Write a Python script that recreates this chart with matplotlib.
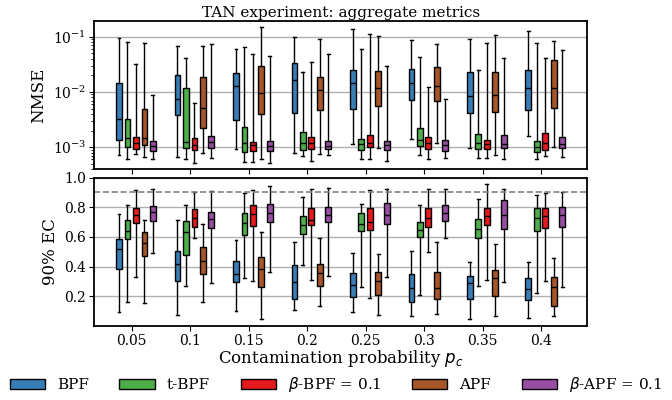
import numpy as np
import matplotlib
matplotlib.use("Agg")
import matplotlib.pyplot as plt

plt.rcParams["font.family"] = "DejaVu Serif"
plt.rcParams["mathtext.fontset"] = "dejavusans"

probs = ["0.05", "0.1", "0.15", "0.2", "0.25", "0.3", "0.35", "0.4"]
methods = ["BPF", "t-BPF", r"$\beta$-BPF = 0.1", "APF", r"$\beta$-APF = 0.1"]
colors = ["#377eb8", "#4daf4a", "#e41a1c", "#a65628", "#984ea3"]

# each entry: (low whisker, q1, median, q3, high whisker), one row per probability
nmse_bpf = [(7.2e-4, 1.35e-3, 3.2e-3, 1.44e-2, 0.093), (6.6e-4, 3.8e-3, 7.5e-3, 2.03e-2, 0.069),
            (9.1e-4, 3.1e-3, 1.29e-2, 2.2e-2, 0.059), (8.0e-4, 4.1e-3, 1.65e-2, 3.3e-2, 0.097),
            (1.15e-3, 5.0e-3, 1.47e-2, 2.5e-2, 0.138), (1.38e-3, 7.3e-3, 1.46e-2, 2.64e-2, 0.086),
            (9.8e-4, 4.1e-3, 8.6e-3, 2.28e-2, 0.091), (1.58e-3, 4.7e-3, 1.17e-2, 2.46e-2, 0.128)]
nmse_tbpf = [(6.2e-4, 1.01e-3, 1.48e-3, 3.2e-3, 0.080), (6.2e-4, 9.8e-4, 1.23e-3, 1.17e-2, 0.041),
             (5.4e-4, 8.1e-4, 1.2e-3, 2.3e-3, 0.064), (6.9e-4, 8.9e-4, 1.2e-3, 1.9e-3, 0.023),
             (6.1e-4, 8.9e-4, 1.12e-3, 1.38e-3, 0.060), (7.2e-4, 1.05e-3, 1.35e-3, 2.2e-3, 0.043),
             (6.3e-4, 9.1e-4, 1.2e-3, 1.7e-3, 0.0246), (6.0e-4, 8.1e-4, 1.03e-3, 1.32e-3, 0.078)]
nmse_bbpf = [(7.4e-4, 9.1e-4, 1.2e-3, 1.5e-3, 0.032), (5.2e-4, 8.9e-4, 1.1e-3, 1.48e-3, 0.0063),
             (5.5e-4, 8.5e-4, 1.1e-3, 1.26e-3, 0.049), (5.6e-4, 9.4e-4, 1.17e-3, 1.5e-3, 0.035),
             (6.1e-4, 1.0e-3, 1.2e-3, 1.63e-3, 0.113), (6.0e-4, 9.1e-4, 1.18e-3, 1.55e-3, 0.0125),
             (6.4e-4, 9.1e-4, 1.12e-3, 1.34e-3, 0.076), (6.9e-4, 8.9e-4, 1.17e-3, 1.8e-3, 0.041)]
nmse_apf = [(6.7e-4, 1.1e-3, 1.45e-3, 5.0e-3, 0.078), (7.9e-4, 2.2e-3, 5.1e-3, 1.87e-2, 0.067),
            (6.0e-4, 4.0e-3, 9.5e-3, 2.95e-2, 0.150), (7.6e-4, 4.7e-3, 1.1e-2, 1.9e-2, 0.092),
            (9.8e-4, 5.5e-3, 1.18e-2, 2.36e-2, 0.102), (1.18e-3, 6.9e-3, 1.3e-2, 2.8e-2, 0.075),
            (7.2e-4, 4.4e-3, 8.7e-3, 2.28e-2, 0.107), (1.0e-3, 5.2e-3, 1.2e-2, 3.8e-2, 0.085)]
nmse_bapf = [(6.2e-4, 8.7e-4, 1.05e-3, 1.32e-3, 0.0089), (6.4e-4, 9.6e-4, 1.23e-3, 1.58e-3, 0.073),
             (5.2e-4, 8.6e-4, 1.05e-3, 1.29e-3, 0.045), (7.1e-4, 9.1e-4, 1.07e-3, 1.29e-3, 0.048),
             (5.6e-4, 8.9e-4, 1.1e-3, 1.32e-3, 0.029), (6.4e-4, 8.5e-4, 1.1e-3, 1.35e-3, 0.0076),
             (6.2e-4, 9.8e-4, 1.15e-3, 1.63e-3, 0.041), (6.6e-4, 9.6e-4, 1.13e-3, 1.5e-3, 0.057)]

ec_bpf = [(0.095, 0.387, 0.519, 0.587, 0.753), (0.075, 0.302, 0.416, 0.506, 0.712),
          (0.102, 0.297, 0.351, 0.439, 0.578), (0.106, 0.183, 0.297, 0.414, 0.564),
          (0.095, 0.198, 0.277, 0.358, 0.490), (0.070, 0.165, 0.257, 0.349, 0.504),
          (0.050, 0.185, 0.288, 0.335, 0.434), (0.053, 0.176, 0.246, 0.326, 0.432)]
ec_tbpf = [(0.162, 0.585, 0.643, 0.712, 0.813), (0.270, 0.479, 0.634, 0.708, 0.816),
           (0.322, 0.614, 0.695, 0.764, 0.897), (0.409, 0.620, 0.679, 0.739, 0.867),
           (0.264, 0.643, 0.690, 0.760, 0.822), (0.210, 0.602, 0.650, 0.703, 0.813),
           (0.270, 0.596, 0.656, 0.721, 0.856), (0.223, 0.638, 0.728, 0.796, 0.881)]
ec_bbpf = [(0.333, 0.695, 0.751, 0.793, 0.917), (0.593, 0.670, 0.728, 0.791, 0.906),
           (0.306, 0.674, 0.755, 0.816, 0.919), (0.311, 0.679, 0.715, 0.796, 0.923),
           (0.187, 0.647, 0.701, 0.798, 0.917), (0.501, 0.668, 0.730, 0.796, 0.921),
           (0.313, 0.679, 0.742, 0.796, 0.959), (0.306, 0.661, 0.744, 0.796, 0.894)]
ec_apf = [(0.154, 0.472, 0.562, 0.636, 0.717), (0.160, 0.353, 0.441, 0.533, 0.686),
          (0.050, 0.264, 0.387, 0.463, 0.634), (0.136, 0.270, 0.358, 0.418, 0.596),
          (0.075, 0.210, 0.304, 0.365, 0.484), (0.082, 0.185, 0.253, 0.363, 0.564),
          (0.068, 0.205, 0.326, 0.374, 0.555), (0.068, 0.136, 0.266, 0.331, 0.461)]
ec_bapf = [(0.490, 0.708, 0.769, 0.809, 0.921), (0.288, 0.661, 0.721, 0.771, 0.910),
           (0.365, 0.701, 0.762, 0.822, 0.946), (0.338, 0.704, 0.751, 0.800, 0.928),
           (0.329, 0.686, 0.746, 0.827, 0.921), (0.591, 0.710, 0.760, 0.816, 0.921),
           (0.297, 0.656, 0.746, 0.847, 0.921), (0.261, 0.668, 0.748, 0.800, 0.901)]

nmse = [nmse_bpf, nmse_tbpf, nmse_bbpf, nmse_apf, nmse_bapf]
ec = [ec_bpf, ec_tbpf, ec_bbpf, ec_apf, ec_bapf]


def draw(ax, data):
    x = np.arange(len(probs))
    for k, series in enumerate(data):
        stats = [dict(whislo=s[0], q1=s[1], med=s[2], q3=s[3], whishi=s[4], fliers=[])
                 for s in series]
        ax.bxp(stats, positions=x + (k - 1.5) * 0.145, widths=0.1, capwidths=0.05,
               patch_artist=True, manage_ticks=False,
               boxprops=dict(facecolor=colors[k], edgecolor="black", linewidth=1.0),
               medianprops=dict(color="black", linewidth=1.0),
               whiskerprops=dict(color="black", linewidth=1.0),
               capprops=dict(color="black", linewidth=1.0))
    ax.set_xlim(-0.64, 7.79)
    ax.set_xticks(x)
    ax.grid(axis="y", color="#b0b0b0", linewidth=1.0)
    ax.set_axisbelow(True)
    for sp in ax.spines.values():
        sp.set_linewidth(1.3)


fig = plt.figure(figsize=(6.72, 4.0), dpi=100)
ax1 = fig.add_axes([0.1403, 0.577, 0.7337, 0.371])
ax2 = fig.add_axes([0.1403, 0.185, 0.7337, 0.371])

draw(ax1, nmse)
ax1.set_yscale("log")
ax1.set_ylim(4.0e-4, 0.194)
ax1.set_xticklabels([])
ax1.set_ylabel("NMSE", fontsize=12)
ax1.set_title("TAN experiment: aggregate metrics", fontsize=11, pad=3)

draw(ax2, ec)
ax2.set_ylim(0, 1)
ax2.set_yticks([0.2, 0.4, 0.6, 0.8, 1.0])
ax2.axhline(0.9, color="grey", linestyle="--", linewidth=1.2)
ax2.set_xticklabels(probs)
ax2.set_ylabel("90% EC", fontsize=12)
ax2.set_xlabel("Contamination probability $p_c$", fontsize=12, labelpad=0)

for ax in (ax1, ax2):
    ax.tick_params(labelsize=10, pad=2.5)

handles = [plt.Rectangle((0, 0), 1, 1, facecolor=c, edgecolor="black", linewidth=1.0)
           for c in colors]
fig.legend(handles, methods, loc="lower center", bbox_to_anchor=(0.5, -0.02), ncol=5,
           frameon=False, fontsize=11, handlelength=2.3, columnspacing=2.0)

fig.savefig("out.png", dpi=100)
